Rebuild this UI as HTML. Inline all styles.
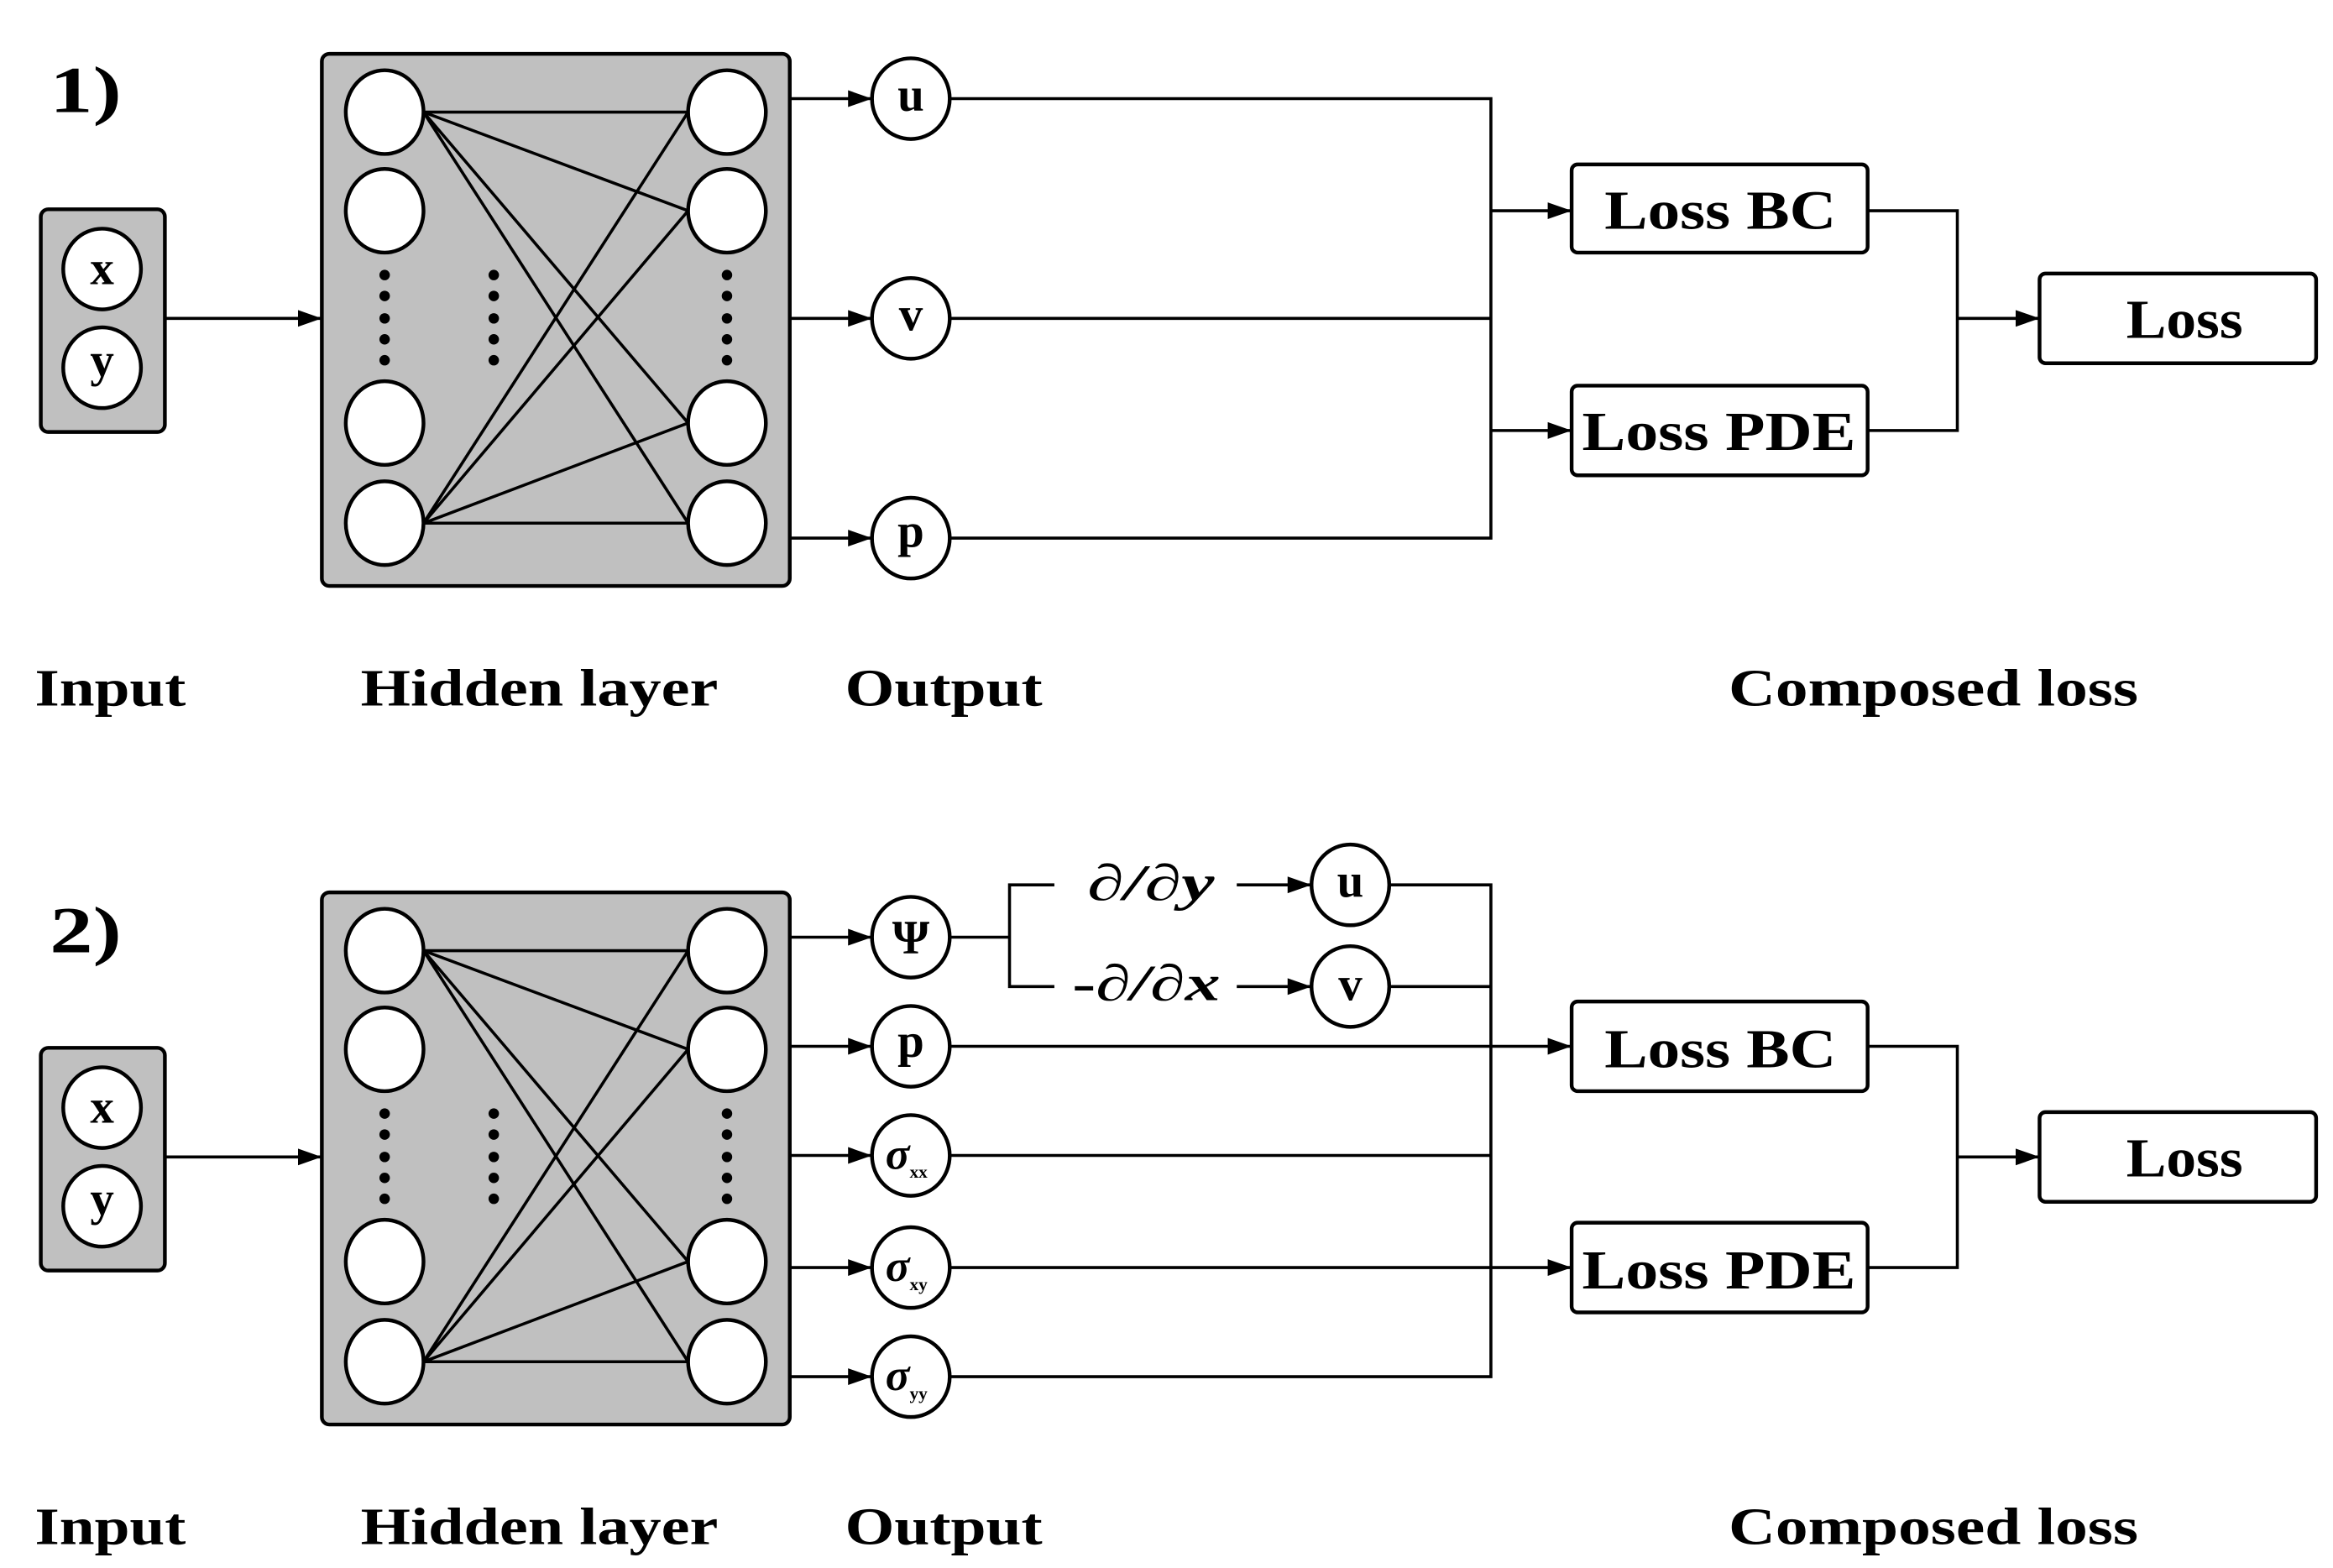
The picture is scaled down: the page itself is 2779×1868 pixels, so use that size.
<!DOCTYPE html>
<html><head><meta charset="utf-8"><style>html,body{margin:0;padding:0;background:#fff}svg{display:block}</style></head>
<body>
<svg xmlns="http://www.w3.org/2000/svg" width="2779" height="1868" viewBox="0 0 1560 1049" font-family="Liberation Serif, serif" font-weight="bold">
<defs>
<marker id="A" viewBox="0 0 10 10" refX="10" refY="5" markerWidth="16" markerHeight="16" orient="auto" markerUnits="userSpaceOnUse"><path d="M0,1.5L10,5L0,8.5z"/></marker>
<g id="net">
<rect x="27" y="140" width="83" height="149" rx="5" fill="#c0c0c0" stroke="#000" stroke-width="2.5"/>
<ellipse cx="68" cy="180" rx="26" ry="27" fill="#fff" stroke="#000" stroke-width="2.5"/>
<ellipse cx="68" cy="246" rx="26" ry="27" fill="#fff" stroke="#000" stroke-width="2.5"/>
<text x="68" y="190" font-size="32" text-anchor="middle">x</text>
<text x="68" y="252" font-size="32" text-anchor="middle">y</text>
<line x1="110" y1="213" x2="215" y2="213" stroke="#000" stroke-width="2" marker-end="url(#A)"/>
<rect x="215" y="36" width="313" height="356" rx="5" fill="#c0c0c0" stroke="#000" stroke-width="2.5"/>
<g stroke="#000" stroke-width="2">
<line x1="283" y1="75" x2="460" y2="75"/><line x1="283" y1="75" x2="460" y2="141"/>
<line x1="283" y1="75" x2="460" y2="283"/><line x1="283" y1="75" x2="460" y2="350"/>
<line x1="283" y1="350" x2="460" y2="75"/><line x1="283" y1="350" x2="460" y2="141"/>
<line x1="283" y1="350" x2="460" y2="283"/><line x1="283" y1="350" x2="460" y2="350"/>
</g>
<g fill="#fff" stroke="#000" stroke-width="2.5">
<ellipse cx="257" cy="75" rx="26" ry="28"/><ellipse cx="257" cy="141" rx="26" ry="28"/>
<ellipse cx="257" cy="283" rx="26" ry="28"/><ellipse cx="257" cy="350" rx="26" ry="28"/>
<ellipse cx="486" cy="75" rx="26" ry="28"/><ellipse cx="486" cy="141" rx="26" ry="28"/>
<ellipse cx="486" cy="283" rx="26" ry="28"/><ellipse cx="486" cy="350" rx="26" ry="28"/>
</g>
<g fill="#000">
<circle cx="257" cy="184" r="3.5"/><circle cx="257" cy="198" r="3.5"/><circle cx="257" cy="213" r="3.5"/><circle cx="257" cy="227" r="3.5"/><circle cx="257" cy="241" r="3.5"/>
<circle cx="330" cy="184" r="3.5"/><circle cx="330" cy="198" r="3.5"/><circle cx="330" cy="213" r="3.5"/><circle cx="330" cy="227" r="3.5"/><circle cx="330" cy="241" r="3.5"/>
<circle cx="486" cy="184" r="3.5"/><circle cx="486" cy="198" r="3.5"/><circle cx="486" cy="213" r="3.5"/><circle cx="486" cy="227" r="3.5"/><circle cx="486" cy="241" r="3.5"/>
</g>
<g font-size="35">
<text x="23" y="472" textLength="101" lengthAdjust="spacingAndGlyphs">Input</text>
<text x="241" y="472" textLength="239" lengthAdjust="spacingAndGlyphs">Hidden layer</text>
<text x="565" y="472" textLength="132" lengthAdjust="spacingAndGlyphs">Output</text>
<text x="1156" y="472" textLength="274" lengthAdjust="spacingAndGlyphs">Composed loss</text>
</g>
</g>
</defs>
<use href="#net"/>
<use href="#net" y="561"/>
<g stroke="#000" stroke-width="2" fill="none">
<line x1="528" y1="66" x2="583" y2="66" marker-end="url(#A)"/>
<line x1="528" y1="213" x2="583" y2="213" marker-end="url(#A)"/>
<line x1="528" y1="360" x2="583" y2="360" marker-end="url(#A)"/>
<polyline points="635,66 997,66 997,360 635,360"/>
<line x1="635" y1="213" x2="997" y2="213"/>
<line x1="997" y1="141" x2="1051" y2="141" marker-end="url(#A)"/>
<line x1="997" y1="288" x2="1051" y2="288" marker-end="url(#A)"/>
<polyline points="1249,141 1309,141 1309,288 1249,288"/>
<line x1="1309" y1="213" x2="1364" y2="213" marker-end="url(#A)"/>
<line x1="528" y1="627" x2="583" y2="627" marker-end="url(#A)"/>
<line x1="528" y1="700" x2="583" y2="700" marker-end="url(#A)"/>
<line x1="528" y1="773" x2="583" y2="773" marker-end="url(#A)"/>
<line x1="528" y1="848" x2="583" y2="848" marker-end="url(#A)"/>
<line x1="528" y1="921" x2="583" y2="921" marker-end="url(#A)"/>
<line x1="635" y1="627" x2="675" y2="627"/>
<polyline points="705,592 675,592 675,660 705,660"/>
<line x1="827" y1="592" x2="877" y2="592" marker-end="url(#A)"/>
<line x1="827" y1="660" x2="877" y2="660" marker-end="url(#A)"/>
<polyline points="929,592 997,592 997,921 635,921"/>
<line x1="929" y1="660" x2="997" y2="660"/>
<line x1="635" y1="700" x2="1051" y2="700" marker-end="url(#A)"/>
<line x1="635" y1="773" x2="997" y2="773"/>
<line x1="635" y1="848" x2="1051" y2="848" marker-end="url(#A)"/>
<polyline points="1249,700 1309,700 1309,848 1249,848"/>
<line x1="1309" y1="774" x2="1364" y2="774" marker-end="url(#A)"/>
</g>
<g fill="#fff" stroke="#000" stroke-width="2.5">
<ellipse cx="609" cy="66" rx="26" ry="27"/><ellipse cx="609" cy="213" rx="26" ry="27"/><ellipse cx="609" cy="360" rx="26" ry="27"/>
<ellipse cx="609" cy="627" rx="26" ry="27"/><ellipse cx="609" cy="700" rx="26" ry="27"/><ellipse cx="609" cy="773" rx="26" ry="27"/>
<ellipse cx="609" cy="848" rx="26" ry="27"/><ellipse cx="609" cy="921" rx="26" ry="27"/>
<ellipse cx="903" cy="592" rx="26" ry="27"/><ellipse cx="903" cy="660" rx="26" ry="27"/>
<rect x="1051" y="110" width="198" height="59" rx="4"/><rect x="1051" y="258" width="198" height="60" rx="4"/>
<rect x="1364" y="183" width="185" height="60" rx="4"/>
<rect x="1051" y="670" width="198" height="60" rx="4"/><rect x="1051" y="818" width="198" height="60" rx="4"/>
<rect x="1364" y="744" width="185" height="60" rx="4"/>
</g>
<g font-size="32" text-anchor="middle">
<text x="609" y="74">u</text><text x="609" y="221">v</text><text x="609" y="366">p</text>
<text x="609" y="638">Ψ</text><text x="609" y="707">p</text>
<text x="903" y="600">u</text><text x="903" y="669">v</text>
</g>
<g font-size="30" font-style="italic">
<text x="592" y="782">σ<tspan font-size="12" font-style="normal" dy="6">xx</tspan></text>
<text x="592" y="857">σ<tspan font-size="12" font-style="normal" dy="6">xy</tspan></text>
<text x="592" y="930">σ<tspan font-size="12" font-style="normal" dy="6">yy</tspan></text>
</g>
<g font-size="34" font-style="italic">
<text x="727" y="602" textLength="85" lengthAdjust="spacingAndGlyphs">∂/∂y</text>
<text x="717" y="669" textLength="99" lengthAdjust="spacingAndGlyphs"><tspan font-style="normal">-</tspan>∂/∂x</text>
</g>
<g font-size="37">
<text x="1073" y="153" textLength="155" lengthAdjust="spacingAndGlyphs">Loss BC</text>
<text x="1058" y="301" textLength="183" lengthAdjust="spacingAndGlyphs">Loss PDE</text>
<text x="1422" y="226" textLength="78" lengthAdjust="spacingAndGlyphs">Loss</text>
<text x="1073" y="714" textLength="155" lengthAdjust="spacingAndGlyphs">Loss BC</text>
<text x="1058" y="862" textLength="183" lengthAdjust="spacingAndGlyphs">Loss PDE</text>
<text x="1422" y="787" textLength="78" lengthAdjust="spacingAndGlyphs">Loss</text>
</g>
<g font-size="44">
<text x="33" y="75" textLength="48" lengthAdjust="spacingAndGlyphs">1)</text>
<text x="33" y="637" textLength="48" lengthAdjust="spacingAndGlyphs">2)</text>
</g>
</svg>
</body></html>
